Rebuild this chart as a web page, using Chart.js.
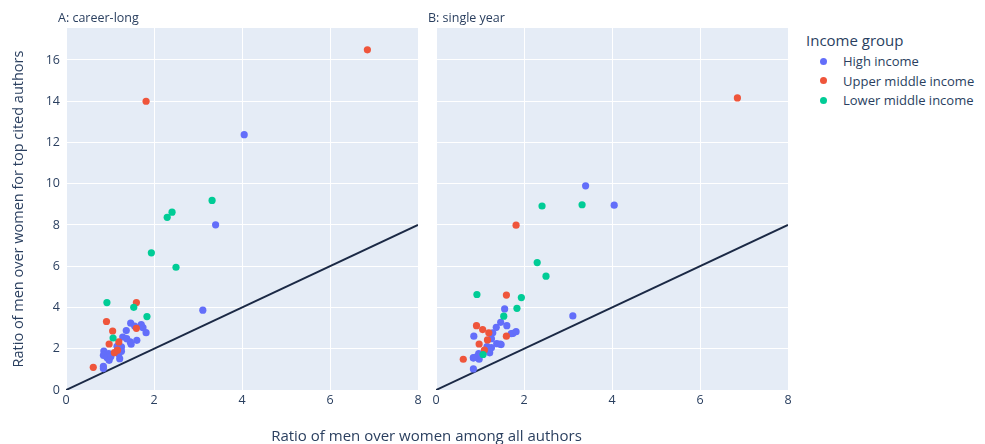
<!DOCTYPE html>
<html><head><meta charset="utf-8">
<script src="https://cdn.jsdelivr.net/npm/chart.js@4.4.1/dist/chart.umd.min.js"></script>
<style>
html,body{margin:0;padding:0;background:#fff;}
#wrap{position:relative;width:985px;height:444px;overflow:hidden;font-family:"Open Sans",sans-serif;color:#2a3f5f;}
canvas{position:absolute;top:0;}
.t{position:absolute;white-space:nowrap;}
.dot{display:inline-block;width:7px;height:7px;border-radius:50%;position:absolute;}
</style></head>
<body><div id="wrap">
<canvas id="c1" width="430" height="444" style="left:0;width:430px;height:444px"></canvas>
<canvas id="c2" width="375" height="444" style="left:425px;width:375px;height:444px"></canvas>
<div class="t" id="ptA" style="left:58px;top:9px;font-size:12.5px">A: career-long</div>
<div class="t" id="ptB" style="left:428px;top:9px;font-size:12.5px">B: single year</div>
<div class="t" style="left:0;width:853px;text-align:center;top:425px;font-size:15px">Ratio of men over women among all authors</div>
<div class="t" id="legTitle" style="left:806px;top:30px;font-size:15px">Income group</div>
<div id="legend"></div>
</div>
<script>
// Categories / series
const groups = ["High income", "Upper middle income", "Lower middle income"];
const panelTitles = ["A: career-long", "B: single year"];
const xTicks = [0, 2, 4, 6, 8];
const yTicks = [0, 2, 4, 6, 8, 10, 12, 14, 16];

// High income: ratio among all authors (x), career-long (A) and single year (B) top-cited ratios
const highX       = [4.05, 3.40, 3.11, 1.47, 1.71, 1.37, 1.75, 1.82, 1.29, 1.38, 1.61, 1.46, 1.48, 1.16, 1.26, 1.26, 0.86, 0.97, 0.85, 0.93, 0.98, 1.02, 1.22, 0.85, 0.85, 1.20, 1.56];
const highCareerY = [12.38, 8.01, 3.87, 3.24, 3.17, 2.88, 3.02, 2.78, 2.57, 2.49, 2.41, 2.33, 2.22, 2.12, 2.09, 1.88, 1.89, 1.76, 1.68, 1.57, 1.44, 1.63, 1.52, 1.15, 1.04, 1.75, 3.10];
const highSingleY = [8.96, 9.90, 3.59, 3.28, 2.73, 3.04, 2.75, 2.83, 2.77, 2.25, 3.12, 2.22, 2.20, 2.10, 2.49, 2.05, 2.61, 1.76, 1.57, 1.62, 1.49, 1.70, 1.80, 1.02, 1.55, 1.95, 3.93];

// Upper middle income
const upperX       = [6.85, 1.82, 1.60, 1.60, 0.92, 1.06, 0.98, 1.20, 1.17, 1.10, 0.62];
const upperCareerY = [16.49, 14.00, 4.24, 2.99, 3.32, 2.86, 2.23, 2.33, 1.93, 1.81, 1.10];
const upperSingleY = [14.16, 7.99, 4.60, 2.61, 3.12, 2.93, 2.23, 2.77, 2.43, 1.94, 1.49];

// Lower middle income
const lowerX       = [3.32, 2.41, 2.30, 1.94, 2.50, 0.93, 1.54, 1.84, 1.07];
const lowerCareerY = [9.19, 8.62, 8.37, 6.65, 5.95, 4.24, 4.01, 3.56, 2.52];
const lowerSingleY = [8.98, 8.92, 6.18, 4.48, 5.52, 4.63, 3.58, 3.96, 1.72];

// Reference line y = x
const refLineX = [0, 8];

const colors = ["#636efa", "#EF553B", "#00cc96"];
const textColor = "#2a3f5f";
const FONT = "'Open Sans', sans-serif";

function pts(xs, ys){ return xs.map((x,i)=>({x:x, y:ys[i]})); }

const bgPlugin = {
  id:'bg',
  beforeDraw(chart){
    const {ctx, chartArea:a} = chart;
    ctx.save(); ctx.fillStyle = '#E5ECF6';
    ctx.fillRect(a.left, a.top, a.right-a.left, a.bottom-a.top);
    ctx.restore();
  }
};

function makeChart(id, ysets, showY){
  const datasets = [
    {label:groups[0], data:pts(highX, ysets[0]), backgroundColor:colors[0], order:3},
    {label:groups[1], data:pts(upperX, ysets[1]), backgroundColor:colors[1], order:2},
    {label:groups[2], data:pts(lowerX, ysets[2]), backgroundColor:colors[2], order:1},
    {label:'y=x', type:'line', data:pts(refLineX, refLineX), borderColor:'#1b2945', borderWidth:2, pointRadius:0, order:4}
  ].map(d=>Object.assign({pointRadius:3.6, borderWidth:0, pointBorderWidth:0}, d));
  datasets[3].pointRadius = 0; datasets[3].borderWidth = 2;
  return new Chart(document.getElementById(id), {
    type:'scatter',
    data:{datasets},
    plugins:[bgPlugin],
    options:{
      responsive:false, animation:false,
      layout:{padding:{top:28, right:12, left:0, bottom:0}},
      plugins:{legend:{display:false}, tooltip:{enabled:false}},
      scales:{
        x:{type:'linear', min:0, max:8,
           afterBuildTicks:s=>{ s.ticks = xTicks.map(v=>({value:v})); },
           afterFit:s=>{ s.height = 54; },
           grid:{color:'#ffffff', lineWidth:1, drawTicks:false},
           border:{display:false},
           ticks:{padding:3, color:textColor, font:{family:FONT, size:12.5}}},
        y:{type:'linear', min:0, max:17.55,
           afterBuildTicks:s=>{ s.ticks = yTicks.map(v=>({value:v})); },
           afterFit:s=>{ s.width = showY ? 66 : 11; },
           grid:{color:'#ffffff', lineWidth:1, drawTicks:false},
           border:{display:false},
           title:{display:showY, text:'Ratio of men over women for top cited authors', color:textColor, font:{family:FONT, size:14.5}, padding:{top:10,bottom:0}},
           ticks:{display:showY, padding:6, color:textColor, font:{family:FONT, size:12.5}}}
      }
    }
  });
}

makeChart('c1', [highCareerY, upperCareerY, lowerCareerY], true);
makeChart('c2', [highSingleY, upperSingleY, lowerSingleY], false);

// Legend
const leg = document.getElementById('legend');
groups.forEach((g,i)=>{
  const top = 52 + i*19.5;
  const d = document.createElement('span'); d.className='dot';
  d.style.left='820px'; d.style.top=(top+5.5)+'px'; d.style.background=colors[i];
  leg.appendChild(d);
  const t = document.createElement('div'); t.className='t';
  t.style.left='843px'; t.style.top=top+'px'; t.style.fontSize='13px'; t.textContent=g;
  leg.appendChild(t);
});
</script>
</body></html>
